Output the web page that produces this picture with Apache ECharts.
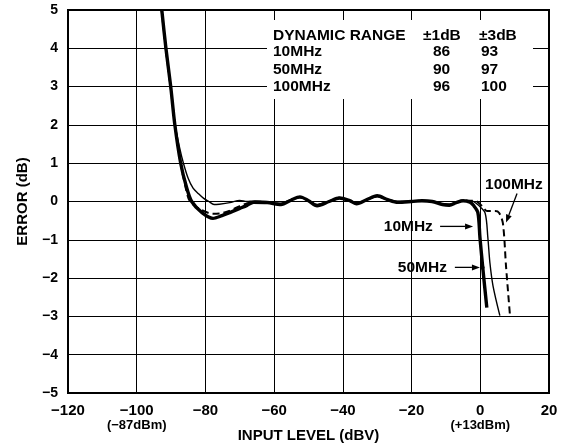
<!DOCTYPE html>
<html><head><meta charset="utf-8">
<script src="https://cdn.jsdelivr.net/npm/echarts@6/dist/echarts.min.js"></script>
<style>html,body{margin:0;padding:0;background:#fff}#c{width:564px;height:445px}</style>
</head><body><div id="c"></div>
<script>
var FONT = '"Liberation Sans", Arial, Helvetica, sans-serif';
var xTicks = [-120, -100, -80, -60, -40, -20, 0, 20];
var xSubLabels = {'-100': '(\u221287dBm)', '0': '(+13dBm)'};

// 10 MHz (thick solid)
var x10 = [-92.7,-91.5,-90.1,-88.9,-87.2,-85.5,-84,-81,-77.8,-75.2,-72.9,-70,-67.9,-66,-62,-58,-55,-52.5,-50,-47.5,-44,-41,-38,-36,-33,-30,-27,-24,-20,-17,-14,-11,-9,-7,-5,-3,-2,-0.7,-0.1,0.8,1.9];
var e10 = [5,4,3,2,1,0.37,0,-0.29,-0.44,-0.37,-0.29,-0.18,-0.1,-0.02,-0.03,-0.08,0.04,0.12,0.02,-0.11,0,0.09,0.02,-0.06,0.05,0.15,0.05,-0.02,0,0.02,0,-0.08,-0.1,-0.03,0.02,-0.02,-0.1,-0.29,-0.94,-1.8,-2.77];
// 50 MHz (thin solid)
var x50 = [-92.8,-91.6,-90.2,-88.8,-87.5,-86.4,-85,-83.6,-82,-80.5,-79,-77.5,-76,-72.9,-70,-67.9,-66,-62,-58,-55,-52.5,-50,-47.5,-44,-41,-38,-36,-33,-30,-27,-24,-20,-17,-14,-11,-9,-7,-5,-3,-2,-0.5,1.4,2.2,2.8,3.7,5.7];
var e50 = [5,4,3,2,1.4,1,0.6,0.35,0.2,0.08,0,-0.08,-0.07,-0.03,0.03,0,0.01,0,-0.05,0.05,0.1,0.03,-0.08,0.01,0.08,0.03,-0.04,0.05,0.13,0.05,0,0.01,0.03,0.01,-0.05,-0.07,-0.02,0.03,0.02,0,-0.1,-0.3,-0.94,-1.6,-2.2,-2.98];
// 100 MHz (dashed)
var x100 = [-92.75,-91.55,-90.15,-88.85,-87.2,-85.6,-84.5,-81.6,-77.8,-75,-72.9,-70,-67.9,-66,-62,-58,-55,-52.5,-50,-47.5,-44,-41,-38,-36,-33,-30,-27,-24,-20,-17,-14,-11,-9,-7,-5,-3,-1,0.5,2,4.3,5.5,6.6,7.5,8.6];
var e100 = [5,4,3,2,1,0.3,0,-0.2,-0.32,-0.3,-0.24,-0.12,-0.05,0,-0.02,-0.06,0.05,0.11,0.02,-0.09,0,0.1,0.02,-0.05,0.05,0.14,0.05,-0.01,0,0.02,0,-0.06,-0.08,-0.02,0.03,0.02,0,-0.12,-0.25,-0.25,-0.3,-0.58,-1.7,-2.93];

var tableHeader = ['DYNAMIC RANGE', '\u00b11dB', '\u00b13dB'];
var tableRows = ['10MHz', '50MHz', '100MHz'];
var range1dB = ['86', '90', '96'];
var range3dB = ['93', '97', '100'];

function pairs(xs, ys){ return xs.map(function(x,i){ return [x, ys[i]]; }); }
function minus(v){ return String(v).replace('-', '\u2212'); }

var chart = echarts.init(document.getElementById('c'), null, {renderer:'canvas'});
var option = {
  animation:false,
  backgroundColor:'#fff',
  grid:{left:68, right:15, top:10, bottom:52, outerBoundsMode:'none', containLabel:false,
        show:true, borderColor:'#000', borderWidth:2, backgroundColor:'transparent'},
  xAxis:{type:'value', min:-120, max:20, interval:20,
    name:'INPUT LEVEL (dBV)', nameLocation:'middle', nameGap:35, nameMoveOverlap:false,
    nameTextStyle:{fontFamily:FONT, fontWeight:'bold', fontSize:15, color:'#000'},
    axisLine:{show:true, onZero:false, lineStyle:{color:'#000', width:2}}, axisTick:{show:false},
    splitLine:{show:true, lineStyle:{color:'#000', width:1}},
    axisLabel:{margin:11, color:'#000', fontFamily:FONT, fontWeight:'bold', fontSize:15,
      formatter:function(v){ var s='{a|'+minus(v)+'}'; if(xSubLabels[String(v)]) s+='\n{b|'+xSubLabels[String(v)]+'}'; return s; },
      rich:{a:{fontFamily:FONT, fontWeight:'bold', fontSize:15, color:'#000', lineHeight:14},
            b:{fontFamily:FONT, fontWeight:'bold', fontSize:13, color:'#000', lineHeight:14}}}
  },
  yAxis:{type:'value', min:-5, max:5, interval:1,
    name:'ERROR (dB)', nameLocation:'middle', nameGap:38, nameRotate:90, nameMoveOverlap:false,
    nameTextStyle:{fontFamily:FONT, fontWeight:'bold', fontSize:15, color:'#000'},
    axisLine:{show:true, onZero:false, lineStyle:{color:'#000', width:2}}, axisTick:{show:false},
    splitLine:{show:true, lineStyle:{color:'#000', width:1}},
    axisLabel:{margin:10, color:'#000', fontFamily:FONT, fontWeight:'bold', fontSize:14,
      formatter:function(v){ return minus(v); }}
  },
  series:[
    {name:'10MHz', type:'line', data:pairs(x10,e10), showSymbol:false, smooth:0.3, clip:true,
     lineStyle:{color:'#000', width:3.4}, z:5},
    {name:'50MHz', type:'line', data:pairs(x50,e50), showSymbol:false, smooth:0.3, clip:true,
     lineStyle:{color:'#000', width:1.4}, z:4},
    {name:'100MHz', type:'line', data:pairs(x100,e100), showSymbol:false, smooth:0.3, clip:true,
     lineStyle:{color:'#000', width:2, type:[7,4]}, z:3}
  ]
};
chart.setOption(option);

function P(x,y){ return chart.convertToPixel({gridIndex:0}, [x,y]); }
function arrow(from, to){
  var a = P(from[0],from[1]), b = P(to[0],to[1]);
  var ang = Math.atan2(b[1]-a[1], b[0]-a[0]), L = 8, W = 3;
  var bx = b[0]-L*Math.cos(ang), by = b[1]-L*Math.sin(ang);
  return [
    {type:'line', z:10, shape:{x1:a[0],y1:a[1],x2:bx,y2:by}, style:{stroke:'#000', lineWidth:1.3}},
    {type:'polygon', z:10, shape:{points:[[b[0],b[1]],[bx+W*Math.sin(ang),by-W*Math.cos(ang)],[bx-W*Math.sin(ang),by+W*Math.cos(ang)]]}, style:{fill:'#000'}}
  ];
}
var g = [];
var TF = 'bold 15.5px '+FONT;
g.push({type:'rect', z:1, shape:{x:267, y:20, width:266, height:79}, style:{fill:'#fff'}});
var colX = [273, 423, 479];
for (var k=0;k<3;k++) g.push({type:'text', z:2, x:colX[k], y:35.5, style:{text:tableHeader[k], font:TF, fill:'#000', verticalAlign:'middle'}});
for (var i=0;i<tableRows.length;i++){
  var yy = 52 + i*17.5;
  g.push({type:'text', z:2, x:colX[0], y:yy, style:{text:tableRows[i], font:TF, fill:'#000', verticalAlign:'middle'}});
  g.push({type:'text', z:2, x:433, y:yy, style:{text:range1dB[i], font:TF, fill:'#000', verticalAlign:'middle'}});
  g.push({type:'text', z:2, x:481, y:yy, style:{text:range3dB[i], font:TF, fill:'#000', verticalAlign:'middle'}});
}
var t100 = P(9.8, 0.44), t10 = P(-13.8, -0.65), t50 = P(-9.7, -1.72);
g.push({type:'text', z:10, x:t100[0], y:t100[1], style:{text:'100MHz', font:TF, fill:'#000', align:'center', verticalAlign:'middle'}});
g.push({type:'text', z:10, x:t10[0], y:t10[1], style:{text:'10MHz', font:TF, fill:'#000', align:'right', verticalAlign:'middle'}});
g.push({type:'text', z:10, x:t50[0], y:t50[1], style:{text:'50MHz', font:TF, fill:'#000', align:'right', verticalAlign:'middle'}});
g = g.concat(arrow([10.7,0.21],[7.5,-0.55]));
g = g.concat(arrow([-11.7,-0.65],[-2.1,-0.65]));
g = g.concat(arrow([-7.4,-1.72],[-0.1,-1.72]));
var dot = P(0.6,-1.72);
g.push({type:'circle', z:10, shape:{cx:dot[0], cy:dot[1], r:2.2}, style:{fill:'#000'}});
chart.setOption({graphic:g});
</script>
</body></html>
